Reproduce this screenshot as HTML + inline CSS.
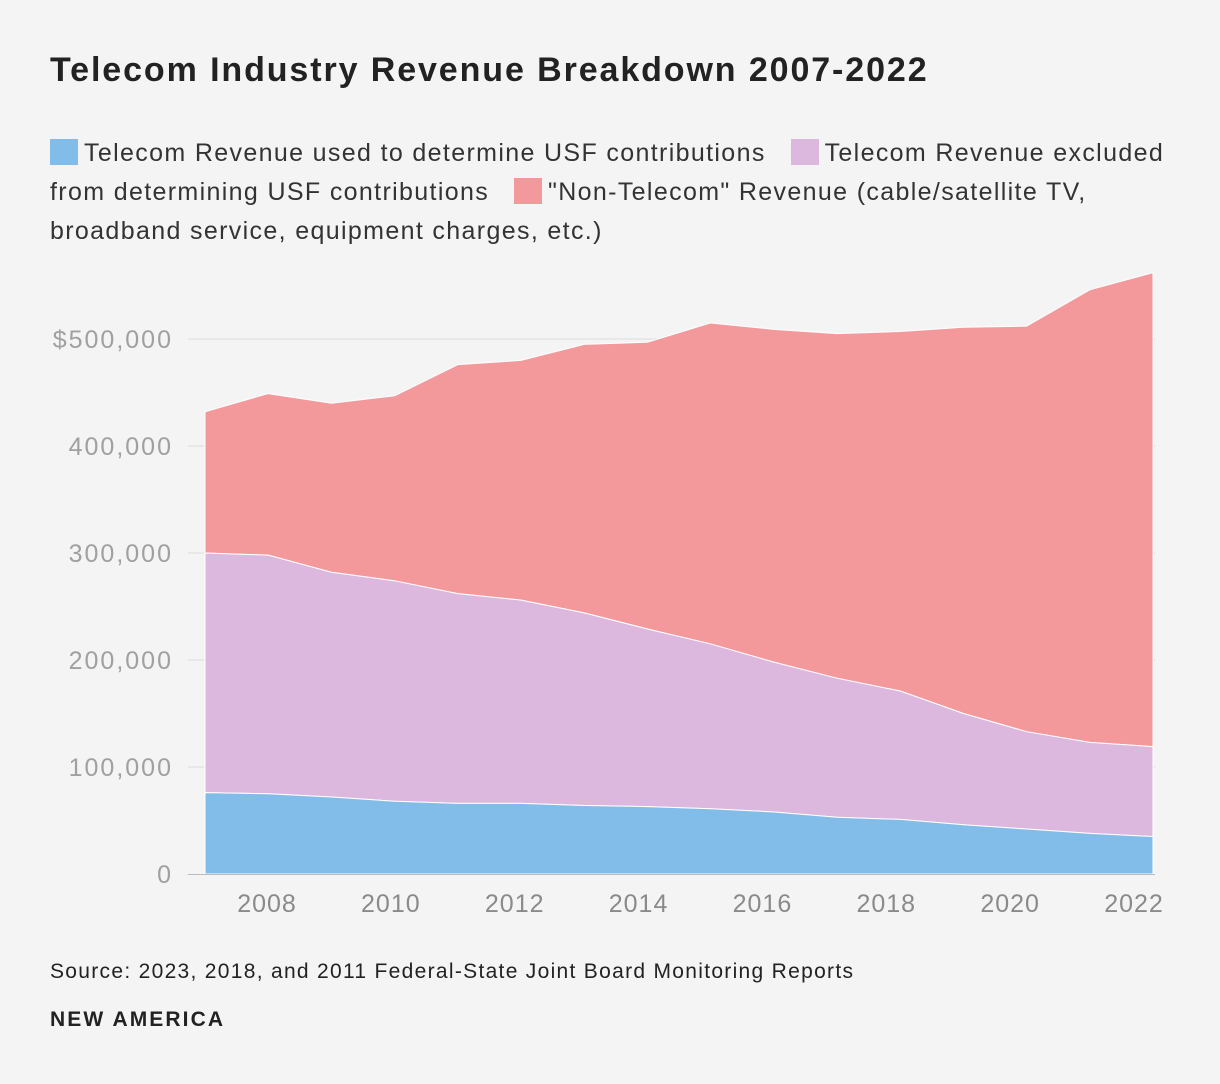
<!DOCTYPE html>
<html><head><meta charset="utf-8"><style>
body{margin:0;background:#f4f4f4;font-family:"Liberation Sans",sans-serif;}
#wrap{position:relative;width:1220px;height:1084px;background:#f4f4f4;}
h1{position:absolute;left:50px;top:51px;margin:0;font-size:34px;font-weight:bold;color:#222;letter-spacing:1.9px;white-space:nowrap}
#legend{position:absolute;left:50px;top:134px;width:1130px;font-size:25px;line-height:39px;color:#333;letter-spacing:1.35px}
.sw{display:inline-block;width:28px;height:26px;vertical-align:-4px;margin-right:6px}
#src{position:absolute;left:50px;top:960px;font-size:21px;color:#222;letter-spacing:1.3px;white-space:nowrap}
#brand{position:absolute;left:50px;top:1008px;font-size:21px;font-weight:bold;color:#222;letter-spacing:2.1px}
svg{position:absolute;left:0;top:0}
</style></head><body>
<div id="wrap">
<h1>Telecom Industry Revenue Breakdown 2007-2022</h1>
<div id="legend"><span><span class="sw" style="background:#82bce8"></span>Telecom Revenue used to determine USF contributions</span>&nbsp;&nbsp; <span><span class="sw" style="background:#dcb8df"></span>Telecom Revenue excluded from determining USF contributions</span>&nbsp;&nbsp; <span><span class="sw" style="background:#f4999b"></span>"Non-Telecom" Revenue (cable/satellite TV, broadband service, equipment charges, etc.)</span></div>
<svg id="chart" width="1220" height="1084"></svg>
<div id="src">Source: 2023, 2018, and 2011 Federal-State Joint Board Monitoring Reports</div>
<div id="brand">NEW AMERICA</div>
</div>
<script>
const years=[2007,2008,2009,2010,2011,2012,2013,2014,2015,2016,2017,2018,2019,2020,2021,2022];
const usf=[76000,75000,72000,68000,66000,66000,64000,63000,61000,58000,53000,51000,46000,42000,38000,35000];
const excluded=[224000,223000,210000,206000,196000,190000,180000,166000,154000,140000,130000,120000,104000,91000,85000,84000];
const nonTelecom=[132000,151000,158000,173000,214000,224000,251000,268000,300000,311000,322000,336000,361000,379000,423000,443000];
const yTicks=[0,100000,200000,300000,400000,500000];
const yTickLabels=["0","100,000","200,000","300,000","400,000","$500,000"];
const xTicks=[2008,2010,2012,2014,2016,2018,2020,2022];

const NS="http://www.w3.org/2000/svg";
const svg=document.getElementById('chart');
const x=v=>205+(v-2007)*(1153-205)/15;
const xl=v=>267+(v-2008)*(1134-267)/14;
const y=v=>874-v*(874-339)/500000;
function mk(t,a){const e=document.createElementNS(NS,t);for(const k in a)e.setAttribute(k,a[k]);svg.appendChild(e);return e;}
yTicks.forEach((t,i)=>{
  if(t>0){const g=mk('line',{x1:188,x2:1155,y1:y(t),y2:y(t),stroke:'#dcdcdc','stroke-width':1});
  
  }
  const l=mk('text',{x:173,y:y(t)+9,'text-anchor':'end','font-size':25,'letter-spacing':2,fill:'#a0a0a0','font-family':'Liberation Sans'});
  l.textContent=yTickLabels[i];
  
  
});
const s1=usf, s2=usf.map((v,i)=>v+excluded[i]), s3=s2.map((v,i)=>v+nonTelecom[i]);
function area(top,bot,fill,name){
  let d='M'+years.map((yr,i)=>x(yr)+','+y(top[i])).join('L');
  for(let i=years.length-1;i>=0;i--)d+='L'+x(years[i])+','+y(bot[i]);
  const p=mk('path',{d:d+'Z',fill:fill,stroke:'#fff','stroke-width':1});
  
  
}
const zero=years.map(()=>0);
area(s3,s2,'#f4999b','area-non-telecom');
area(s2,s1,'#dcb8df','area-excluded');
area(s1,zero,'#82bce8','area-usf');
const ax=mk('line',{x1:188,x2:1155,y1:874.5,y2:874.5,stroke:'#bbb','stroke-width':1});


xTicks.forEach(t=>{
  const l=mk('text',{x:xl(t),y:912,'text-anchor':'middle','font-size':25,'letter-spacing':1,fill:'#8a8a8a','font-family':'Liberation Sans'});
  l.textContent=t;
  
  
});
</script>
</body></html>
